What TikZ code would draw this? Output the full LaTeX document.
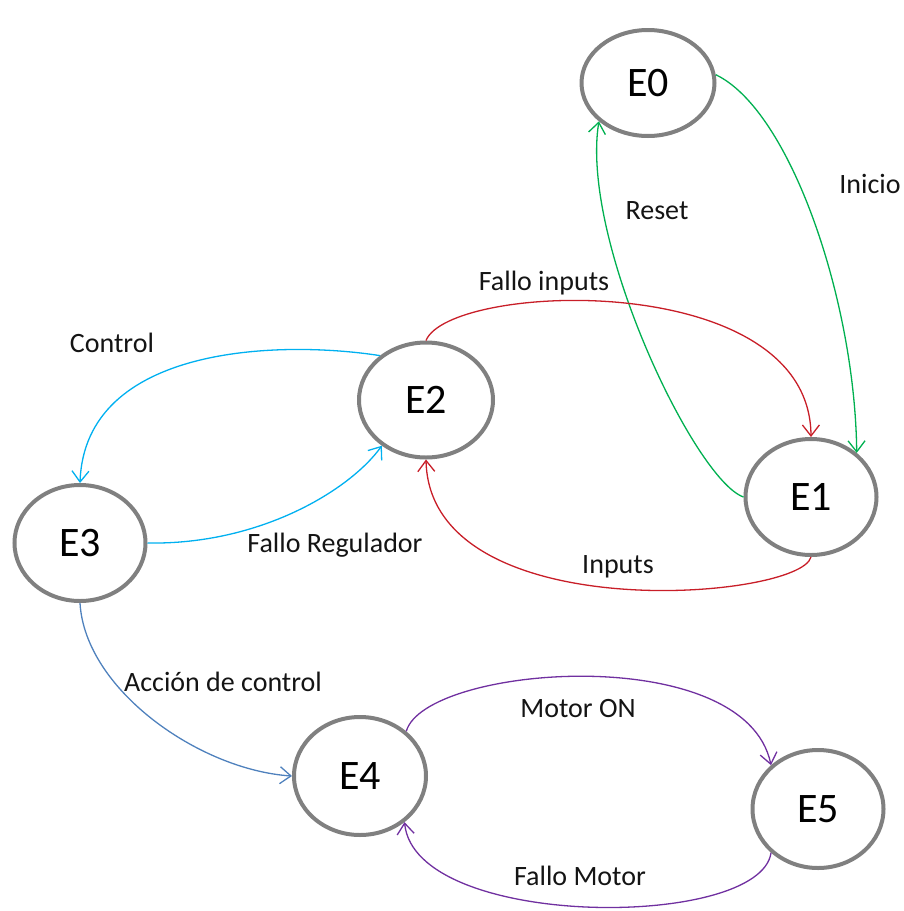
\documentclass[tikz,border=0pt]{standalone}
\usepackage{fontspec}
\setmainfont{Carlito}
\usetikzlibrary{shapes.geometric,arrows.meta}
\definecolor{cgray}{RGB}{128,128,128}
\definecolor{cgreen}{RGB}{0,176,80}
\definecolor{cred}{RGB}{200,30,40}
\definecolor{ccyan}{RGB}{0,176,240}
\definecolor{cblue}{RGB}{79,129,189}
\definecolor{cpurple}{RGB}{112,48,160}
\tikzset{
  state/.style={ellipse,draw=cgray,line width=4pt,fill=white,inner sep=0pt,
    minimum width=132pt,minimum height=116pt,font=\fontsize{42}{50}\selectfont},
  conn/.style={line width=1.3pt,-{Straight Barb[length=11pt,width=17pt,line width=1.3pt]}},
  lbl/.style={anchor=base,inner sep=0pt,font=\fontsize{28}{33}\selectfont,text=black!92}
}
\begin{document}
\begin{tikzpicture}[x=1pt,y=-1pt]
\useasboundingbox (0,0) rectangle (904,911);
\node[state,minimum height=106pt,minimum width=133pt] (E0) at (648,83) {E0};
\node[state,minimum width=131pt] (E1) at (811,497) {E1};
\node[state,minimum width=134pt,minimum height=115pt] (E2) at (426,400) {E2};
\node[state,minimum width=131pt] (E3) at (80,543) {E3};
\node[state,minimum height=118pt] (E4) at (360,776) {E4};
\node[state,minimum width=131pt,minimum height=118pt] (E5) at (818,809) {E5};

\draw[conn,cgreen] (E0.7) .. controls (790,110) and (855,300) .. (E1.44);
\draw[conn,cgreen] (E1.180) .. controls (695,480) and (580,240) .. (E0.218);
\draw[conn,cred] (E2.90) .. controls (450,282) and (810,268) .. (E1.90);
\draw[conn,cred] (E1.270) .. controls (800,600) and (430,630) .. (E2.270);
\draw[conn,ccyan] (E2.136) .. controls (280,340) and (85,345) .. (E3.90);
\draw[conn,ccyan] (E3.0) .. controls (260,545) and (350,490) .. (E2.226);
\draw[conn,cblue] (E3.270) .. controls (85,690) and (200,770) .. (E4.180);
\draw[conn,cpurple] (E4.44) .. controls (425,665) and (745,640) .. (E5.137);
\draw[conn,cpurple] (E5.223) .. controls (760,930) and (415,930) .. (E4.314);

\node[lbl] (lInicio) at (870,193) {Inicio};
\node[lbl] (lReset) at (657,219) {Reset};
\node[lbl] (lFalloIn) at (544,290) {Fallo inputs};
\node[lbl] (lInputs) at (618,573) {Inputs};
\node[lbl] (lControl) at (112,352) {Control};
\node[lbl] (lFalloReg) at (335,552) {Fallo Regulador};
\node[lbl] (lAccion) at (223,691) {Acción de control};
\node[lbl] (lMotorOn) at (578,717) {Motor ON};
\node[lbl] (lFalloMot) at (580,885) {Fallo Motor};
\end{tikzpicture}
\end{document}
